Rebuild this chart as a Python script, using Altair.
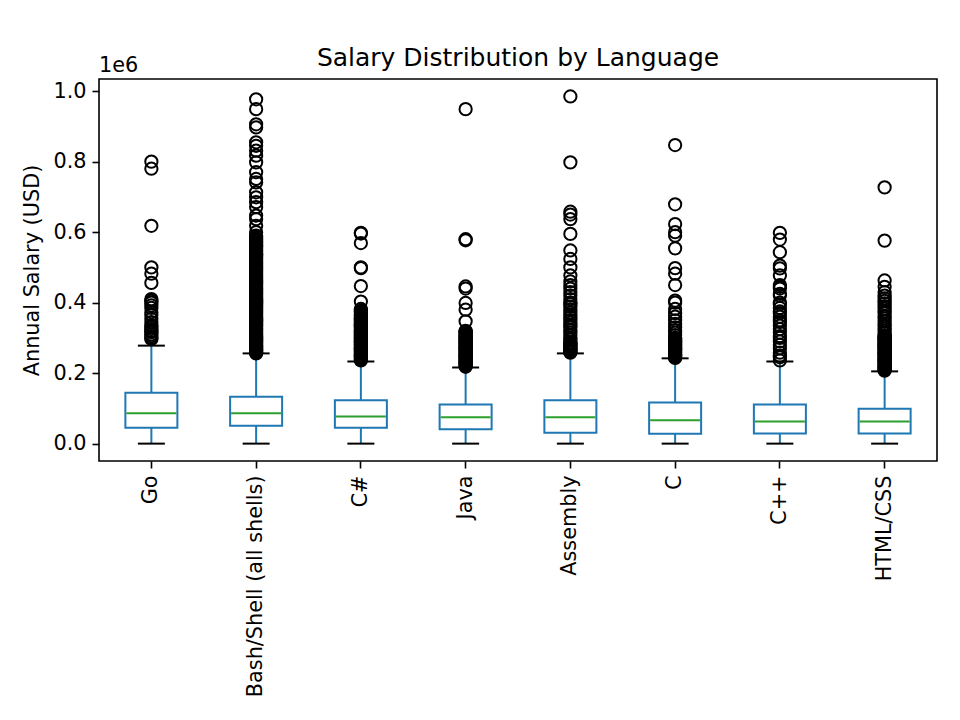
import altair as alt
import pandas as pd

# ---- data (salaries in thousands of USD) ----
languages = ["Go", "Bash/Shell (all shells)", "C#", "Java", "Assembly", "C", "C++", "HTML/CSS"]

whisker_low = [0, 0, 0, 0, 0, 0, 0, 0]
q1 = [45, 51, 45, 41, 31, 28, 29, 29]
median = [86, 86, 77, 75, 75, 66, 63, 63]
q3 = [144, 133, 123, 111, 123, 117, 111, 99]
whisker_high = [278, 256, 233, 216, 256, 242, 233, 205]

out_go = [800, 780, 618, 500, 482, 456, 410, 405, 400, 392, 385, 373, 365, 354,
          345, 335, 330, 325, 320, 316, 310, 305, 300, 297]
out_bash = [977, 949, 906, 897, 855, 845, 831, 817, 798, 770, 751, 741, 713, 699,
            685, 671, 647, 637, 618, 600, 590, 582, 575, 568, 560, 553, 545, 538,
            530, 522, 515, 508, 500, 492, 485, 478, 470, 462, 455, 448, 440, 434,
            428, 422, 416, 410, 404, 398, 392, 386, 380, 374, 368, 362, 356, 350,
            344, 338, 332, 326, 320, 314, 308, 302, 296, 290, 285, 280, 275, 270,
            266, 262, 258,
            587, 579, 571, 564, 557, 549, 541, 534, 526, 518, 511, 504, 496, 488,
            481, 474, 466, 458, 451, 444, 437, 431, 425, 419, 413, 407, 401, 395,
            389, 383, 377, 371, 365, 359, 353, 347, 341, 335, 329, 323, 317, 311,
            305, 299, 293, 288, 283, 278, 273, 268, 264, 260, 256]
out_csharp = [598, 596, 569, 500, 498, 447, 403, 382, 375, 368, 362, 355, 350, 345,
              340, 335, 330, 325, 320, 315, 310, 305, 300, 295, 290, 285, 280, 275,
              270, 265, 260, 255, 250, 245, 240, 236,
              378, 372, 365, 358, 352, 348, 342, 338, 333, 328, 322, 318, 312, 308,
              302, 298, 292, 288, 282, 278, 272, 268, 262, 258, 252, 248, 242, 238]
out_java = [949, 580, 577, 446, 440, 399, 380, 347, 320, 316, 310, 305, 300, 295,
            290, 285, 280, 275, 270, 265, 260, 255, 250, 245, 240, 235, 230, 225, 220,
            318, 313, 308, 302, 298, 292, 288, 282, 278, 272, 268, 262, 258, 252,
            248, 242, 238, 232, 228, 222, 218]
out_asm = [985, 798, 658, 650, 637, 595, 548, 524, 500, 477, 460, 450, 440, 430,
           420, 410, 400, 395, 388, 380, 372, 365, 358, 350, 343, 336, 330, 322,
           315, 308, 300, 295, 288, 282, 276, 270, 265, 260,
           285, 279, 273, 268, 262, 258]
out_c = [847, 679, 623, 600, 590, 554, 498, 482, 450, 406, 400, 382, 370, 360, 350,
         340, 330, 322, 315, 308, 300, 295, 290, 285, 280, 275, 270, 265, 260, 255,
         250, 245,
         298, 292, 288, 282, 278, 272, 268, 262, 258, 252, 248, 243]
out_cpp = [598, 579, 543, 505, 497, 477, 450, 445, 440, 425, 420, 400, 395, 385,
           375, 370, 360, 350, 345, 335, 325, 315, 305, 300, 290, 280, 270, 258,
           250, 245, 236]
out_html = [727, 576, 463, 445, 430, 420, 412, 405, 398, 390, 383, 376, 370, 362,
            355, 348, 340, 333, 326, 320, 314, 308, 303, 298, 293, 288, 283, 278,
            273, 268, 263, 258, 253, 248, 243, 238, 233, 228, 223, 218, 213, 209,
            306, 300, 296, 290, 286, 280, 276, 270, 266, 260, 256, 250, 246, 240,
            236, 230, 226, 220, 216, 211, 207]

outliers = [out_go, out_bash, out_csharp, out_java, out_asm, out_c, out_cpp, out_html]

y_ticks = [0, 200000, 400000, 600000, 800000, 1000000]
offset_label = ["1e6"]
title_text = "Salary Distribution by Language"
y_title = "Annual Salary (USD)"

# ---- tables ----
boxes = pd.DataFrame({
    "lang": languages,
    "lo": [v * 1000 for v in whisker_low],
    "q1": [v * 1000 for v in q1],
    "med": [v * 1000 for v in median],
    "q3": [v * 1000 for v in q3],
    "hi": [v * 1000 for v in whisker_high],
})
pts = pd.DataFrame(
    [{"lang": l, "salary": v * 1000} for l, vals in zip(languages, outliers) for v in vals]
)

FONT = "DejaVu Sans"
BLUE = "#1f77b4"
GREEN = "#2ca02c"

xscale = alt.Scale(type="band", domain=languages, paddingInner=0, paddingOuter=0)
yscale = alt.Scale(domain=[-49300, 1034500], nice=False, zero=False)

X = alt.X("lang:N", scale=xscale, sort=languages,
          axis=alt.Axis(title=None, labelAngle=270, labelFontSize=20.8, labelFont=FONT,
                        labelColor="black", tickColor="black", tickSize=7, tickWidth=1.6,
                        labelPadding=7, domain=False, grid=False, labelLimit=400))
Y = alt.Y("q1:Q", scale=yscale,
          axis=alt.Axis(title=y_title, values=y_ticks,
                        labelExpr="format(datum.value / 1000000, '.1f')",
                        labelFontSize=20.8, labelFont=FONT, labelColor="black",
                        titleFontSize=20.8, titleFont=FONT, titleFontWeight="normal",
                        titleColor="black", titlePadding=10,
                        tickColor="black", tickSize=7, tickWidth=1.6, labelPadding=6,
                        domain=False, grid=False))

base = alt.Chart(boxes)

whisk_lo = base.mark_rule(color=BLUE, strokeWidth=2).encode(
    x=X, y=alt.Y("lo:Q", scale=yscale), y2="q1:Q")
whisk_hi = base.mark_rule(color=BLUE, strokeWidth=2).encode(
    x=X, y=alt.Y("q3:Q", scale=yscale), y2="hi:Q")
box = base.mark_bar(size=52, fill="white", stroke=BLUE, strokeWidth=2).encode(
    x=X, y=Y, y2="q3:Q")
med = base.mark_tick(color=GREEN, size=50, thickness=2, opacity=1).encode(
    x=X, y=alt.Y("med:Q", scale=yscale))
cap_lo = base.mark_tick(color="black", size=27, thickness=2, opacity=1).encode(
    x=X, y=alt.Y("lo:Q", scale=yscale))
cap_hi = base.mark_tick(color="black", size=27, thickness=2, opacity=1).encode(
    x=X, y=alt.Y("hi:Q", scale=yscale))
fliers = alt.Chart(pts).mark_point(shape="circle", filled=False, color="black",
                                   size=150, strokeWidth=2, opacity=1).encode(
    x=X, y=alt.Y("salary:Q", scale=yscale))
offset_txt = alt.Chart(pd.DataFrame({"t": offset_label})).mark_text(
    align="left", baseline="alphabetic", fontSize=20.8, font=FONT, color="black"
).encode(x=alt.value(0), y=alt.value(-7), text="t:N")

chart = alt.layer(whisk_lo, whisk_hi, box, med, cap_lo, cap_hi, fliers, offset_txt).properties(
    width=838, height=382,
    title=alt.TitleParams(title_text, fontSize=25, font=FONT, fontWeight="normal",
                          color="black", frame="group", anchor="middle", offset=12,
                          dy=28),
    padding={"left": 91, "top": 71, "right": 15, "bottom": 251},
    autosize=alt.AutoSizeParams(type="none"),
).configure_view(stroke="black", strokeWidth=1.6)

chart.save("out.html", embed_options={"renderer": "svg", "actions": False})
